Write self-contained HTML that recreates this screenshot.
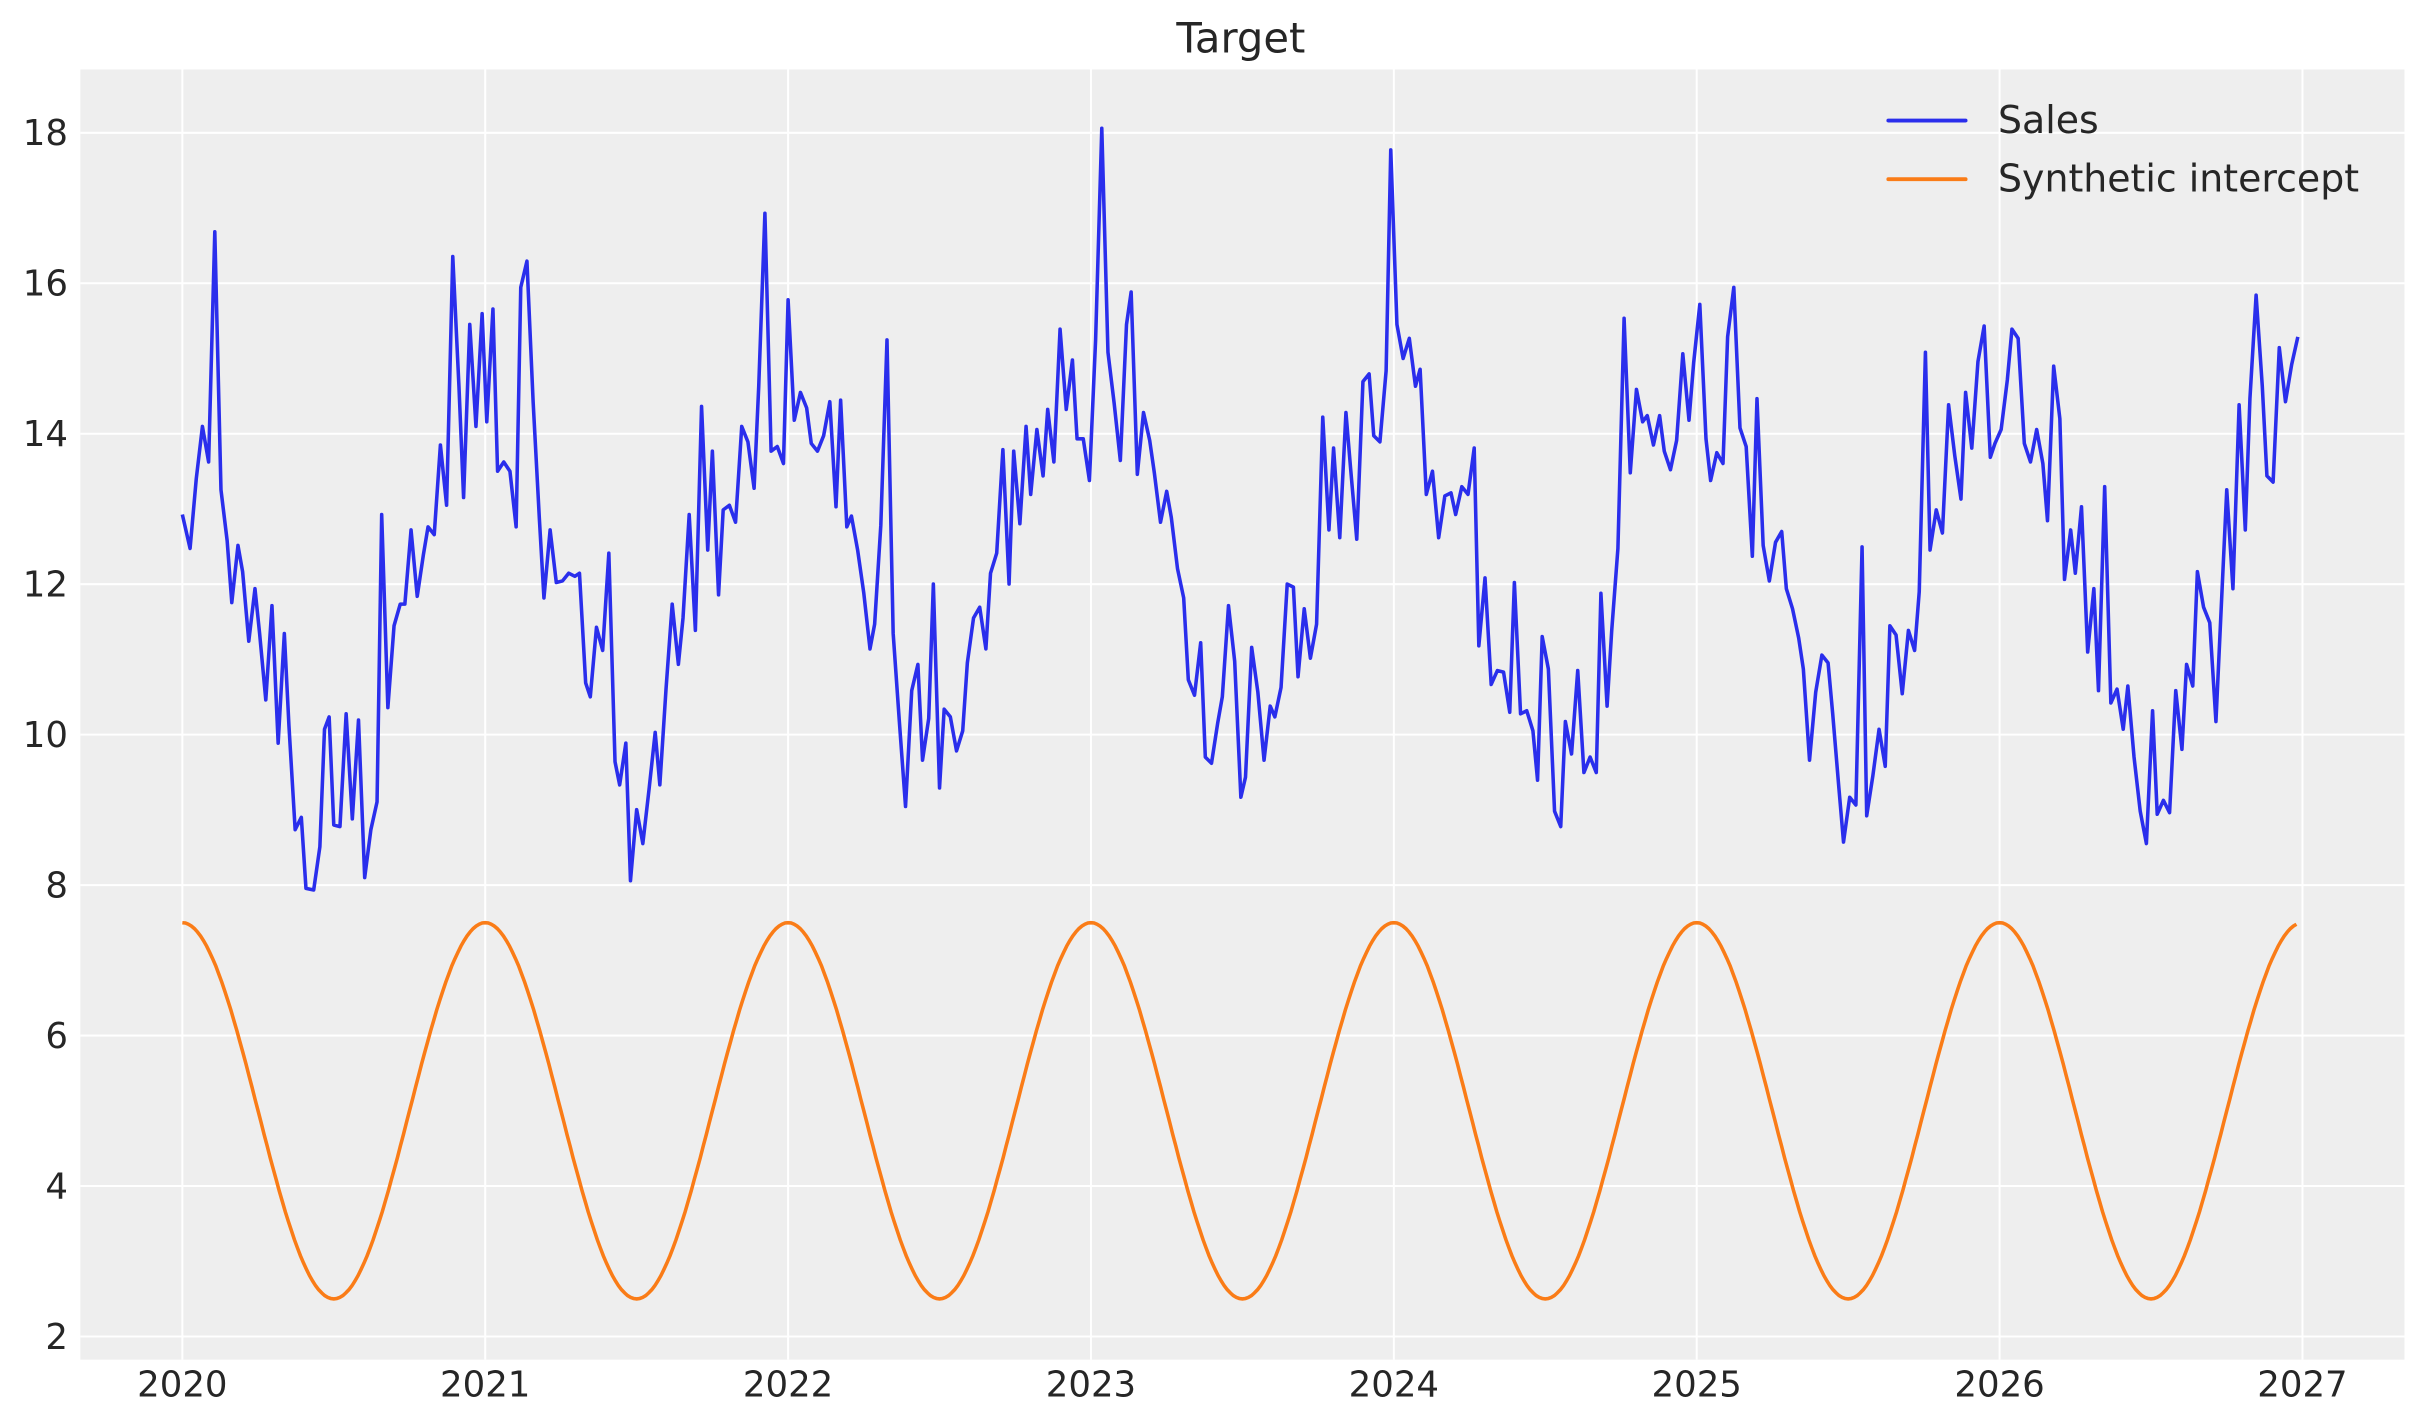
<!DOCTYPE html>
<html><head><meta charset="utf-8"><style>
html,body{margin:0;padding:0;background:#fff;}
svg{display:block;}
text{font-family:"DejaVu Sans","Liberation Sans",sans-serif;fill:#262626;}
</style></head><body>
<svg id="s" width="2423" height="1423" viewBox="0 0 1568 921" preserveAspectRatio="none" xmlns="http://www.w3.org/2000/svg">
<rect x="52" y="45" width="1504" height="835" fill="#eeeeee"/>
<g id="grid" stroke="#ffffff" stroke-width="1.3"></g>
<g id="labels" font-size="23"></g>
<text x="803" y="34" font-size="27" text-anchor="middle">Target</text>
<polyline id="orange" fill="none" stroke="#fa7c17" stroke-width="2.3"/>
<polyline id="sales" fill="none" stroke="#2a2eec" stroke-width="2.3" stroke-linejoin="round" points="118,333 123,355 127,310 131,276 135,299 139,150 143,317 147,350 150,390 154,353 157,370 161,415 165,381 168,410 172,453 176,392 180,481 184,410 187,470 191,537 195,529 198,575 203,576 207,548 210,472 213,464 216,534 220,535 224,462 228,530 232,466 236,568 240,537 244,519 247,333 251,458 255,405 259,391 262,391 266,343 270,386 274,359 277,341 281,346 285,288 289,327 293,166 297,250 300,322 304,210 308,276 312,203 315,273 319,200 322,305 326,299 330,305 334,341 337,186 341,169 345,260 349,335 352,387 356,343 360,377 364,376 368,371 372,373 375,371 379,442 382,451 386,406 390,421 394,358 398,493 401,508 405,481 408,570 412,524 416,546 420,511 424,474 427,508 431,446 435,391 439,430 442,400 446,333 450,408 454,263 458,356 461,292 465,385 468,330 472,327 476,338 480,276 484,286 488,316 491,250 495,138 499,292 503,289 507,300 510,194 514,272 518,254 522,264 525,287 529,292 533,282 537,260 541,328 544,259 548,341 551,334 555,356 559,384 563,420 566,404 570,340 574,220 578,410 582,467 586,522 590,447 594,430 597,492 601,465 604,378 608,510 611,459 615,464 619,486 623,473 626,429 630,400 634,393 638,420 641,371 645,358 649,291 653,378 656,292 660,339 664,276 667,320 671,278 675,308 678,265 682,299 686,213 690,265 694,233 697,284 701,284 705,311 709,220 713,83 717,228 721,261 725,298 729,210 732,189 736,307 740,267 744,285 747,306 751,338 755,318 758,335 762,368 766,387 769,440 773,450 777,416 780,490 784,494 788,468 791,451 795,392 799,428 803,516 806,503 810,419 814,448 818,492 822,457 825,464 829,445 833,378 837,380 840,438 844,394 848,426 852,404 856,270 860,343 863,290 867,348 871,267 874,303 878,349 882,247 886,242 889,282 893,286 897,240 900,97 904,210 908,232 912,219 916,250 919,239 923,320 927,305 931,348 935,321 939,319 942,333 946,315 950,320 954,290 957,418 961,374 965,443 969,434 973,435 977,461 980,377 984,462 988,460 992,473 995,505 998,412 1002,433 1006,525 1010,535 1013,467 1017,488 1021,434 1025,500 1029,490 1033,500 1036,384 1040,457 1043,408 1047,355 1051,206 1055,306 1059,252 1063,273 1066,269 1070,288 1074,269 1077,292 1081,304 1085,285 1089,229 1093,272 1096,235 1100,197 1104,284 1107,311 1111,293 1115,300 1118,218 1122,186 1126,277 1130,289 1134,360 1137,258 1141,353 1145,376 1149,351 1153,344 1156,381 1160,394 1164,413 1167,433 1171,492 1175,448 1179,424 1183,429 1186,462 1190,510 1193,545 1197,516 1201,521 1205,354 1208,528 1212,502 1216,472 1220,496 1223,405 1227,411 1231,449 1235,408 1239,421 1242,383 1246,228 1249,356 1253,330 1257,345 1261,262 1265,295 1269,323 1272,254 1276,290 1280,234 1284,211 1288,296 1291,287 1295,278 1299,246 1302,213 1306,219 1310,287 1314,299 1318,278 1322,300 1325,337 1329,237 1333,271 1336,375 1340,343 1343,371 1347,328 1351,422 1355,381 1358,447 1362,315 1366,455 1370,446 1374,472 1377,444 1381,490 1385,525 1389,546 1393,460 1396,527 1400,518 1404,526 1408,447 1412,485 1415,430 1419,444 1422,370 1426,393 1430,403 1434,467 1438,381 1441,317 1445,381 1449,262 1453,343 1456,258 1460,191 1464,250 1467,308 1471,312 1475,225 1479,260 1483,236 1487,218"/>
<line x1="1222" y1="78" x2="1272" y2="78" stroke="#2a2eec" stroke-width="2.5" stroke-linecap="round"/>
<line x1="1222" y1="116" x2="1272" y2="116" stroke="#fa7c17" stroke-width="2.5" stroke-linecap="round"/>
<text x="1293" y="86" font-size="24.5">Sales</text>
<text x="1293" y="124" font-size="24.5">Synthetic intercept</text>
</svg>
<script>
var ns="http://www.w3.org/2000/svg";
var g=document.getElementById('grid'),L=document.getElementById('labels');
function Y(v){return 865-(v-2)*48.69;}
function X(t){return 118+(t-2020)*196;}
for(var v=2;v<=18;v+=2){var l=document.createElementNS(ns,'line');l.setAttribute('x1',52);l.setAttribute('x2',1556);l.setAttribute('y1',Y(v));l.setAttribute('y2',Y(v));g.appendChild(l);
var t=document.createElementNS(ns,'text');t.setAttribute('x',44);t.setAttribute('y',Y(v)+8);t.setAttribute('text-anchor','end');t.textContent=v;L.appendChild(t);}
for(var y=2020;y<=2027;y++){var l=document.createElementNS(ns,'line');l.setAttribute('y1',45);l.setAttribute('y2',880);l.setAttribute('x1',X(y));l.setAttribute('x2',X(y));g.appendChild(l);
var t=document.createElementNS(ns,'text');t.setAttribute('x',X(y));t.setAttribute('y',904);t.setAttribute('text-anchor','middle');t.textContent=y;L.appendChild(t);}
var p=[];for(var i=0;i<=698;i++){var tt=i/100;p.push((X(2020+tt)).toFixed(1)+','+Y(5+2.5*Math.cos(2*Math.PI*tt)).toFixed(1));}
document.getElementById('orange').setAttribute('points',p.join(' '));
</script>
</body></html>
